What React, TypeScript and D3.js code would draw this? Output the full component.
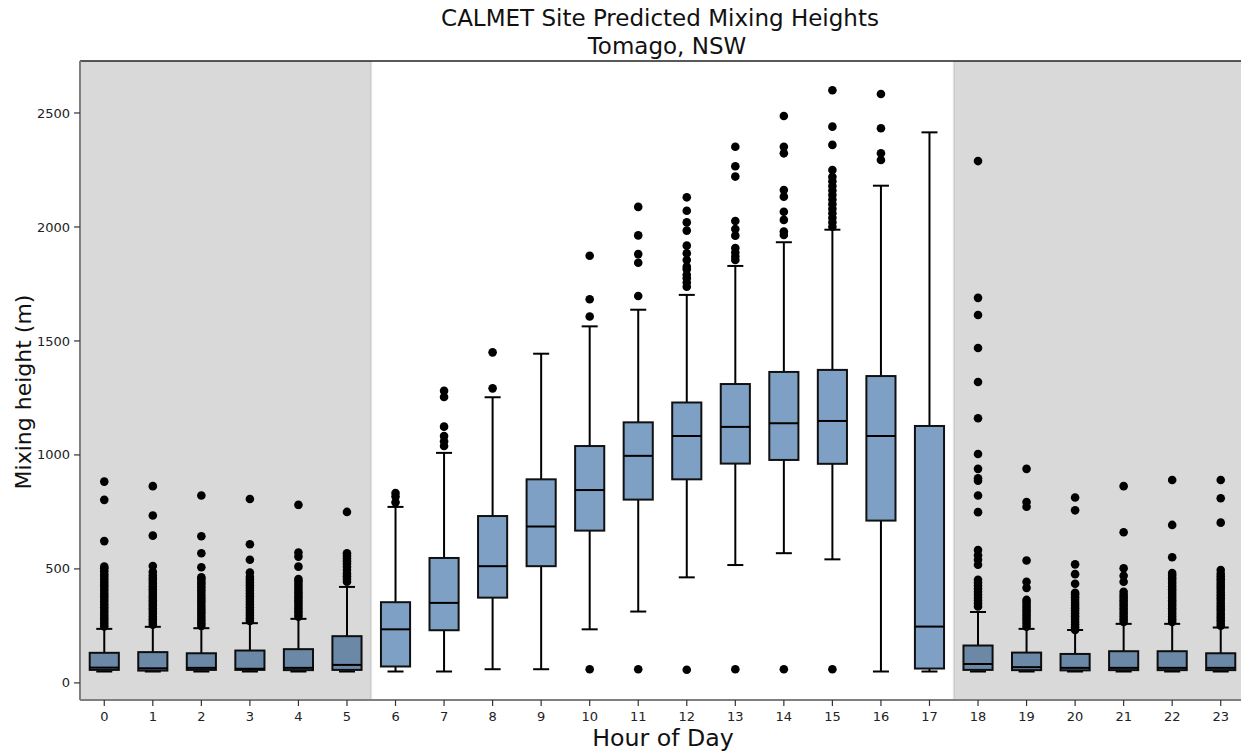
import * as d3 from 'd3'

const W = 1241
const H = 755
const MARGIN = { top: 61, right: -4, bottom: 55, left: 80 }

// hour of day
const hours = d3.range(0, 24)

// box statistics (m)
const q1 = [57, 54, 57, 57, 56, 57, 72, 231, 374, 512, 668, 804, 893, 962, 978, 961, 712, 63, 57, 56, 55, 56, 56, 56]
const medians = [67, 64, 66, 62, 66, 79, 235, 351, 512, 686, 846, 996, 1083, 1123, 1139, 1149, 1083, 247, 83, 69, 66, 66, 66, 66]
const q3 = [132, 135, 130, 142, 148, 205, 354, 548, 732, 893, 1039, 1143, 1230, 1311, 1364, 1373, 1346, 1127, 164, 133, 127, 139, 139, 130]
const whiskerLo = [50, 50, 50, 50, 50, 50, 50, 50, 60, 60, 235, 313, 463, 517, 569, 542, 50, 50, 50, 50, 50, 50, 50, 50]
const whiskerHi = [237, 246, 240, 262, 281, 421, 772, 1009, 1253, 1444, 1564, 1637, 1702, 1829, 1933, 1988, 2181, 2415, 311, 237, 232, 259, 259, 243]

const outliers: number[][] = [
  [248, 260, 272, 284, 296, 308, 320, 332, 344, 356, 368, 380, 392, 404, 416, 428, 440, 452, 464, 476, 490, 503, 510, 622, 803, 883],
  [255, 267, 279, 291, 303, 315, 327, 339, 351, 363, 375, 387, 399, 411, 423, 435, 447, 459, 471, 487, 513, 646, 734, 863],
  [250, 262, 274, 286, 298, 310, 322, 334, 346, 358, 370, 382, 394, 406, 418, 430, 442, 455, 463, 507, 569, 643, 822],
  [272, 284, 296, 308, 320, 332, 344, 356, 368, 380, 392, 404, 416, 428, 440, 452, 465, 484, 540, 608, 807],
  [290, 302, 314, 326, 338, 350, 362, 374, 386, 398, 410, 422, 434, 446, 456, 510, 554, 572, 781],
  [444, 456, 468, 480, 495, 510, 522, 534, 546, 558, 569, 750],
  [792, 818, 833],
  [1039, 1060, 1083, 1124, 1254, 1281],
  [1292, 1450],
  [],
  [60, 1607, 1683, 1874],
  [60, 1697, 1843, 1881, 1963, 2088],
  [58, 1738, 1756, 1775, 1790, 1814, 1826, 1855, 1885, 1918, 1984, 2020, 2071, 2130],
  [60, 1855, 1870, 1888, 1908, 1962, 1991, 2026, 2221, 2266, 2352],
  [60, 1965, 1980, 2031, 2067, 2133, 2162, 2323, 2352, 2487],
  [60, 2001, 2020, 2040, 2060, 2080, 2100, 2120, 2140, 2160, 2180, 2200, 2220, 2250, 2360, 2440, 2600],
  [2294, 2323, 2433, 2583],
  [],
  [335, 348, 361, 374, 387, 400, 413, 426, 439, 452, 518, 540, 560, 583, 749, 822, 887, 898, 939, 1004, 1161, 1320, 1469, 1614, 1689, 2289],
  [247, 259, 271, 283, 295, 307, 319, 331, 343, 355, 364, 417, 444, 537, 773, 793, 939],
  [232, 244, 256, 268, 280, 292, 304, 316, 328, 340, 352, 364, 376, 388, 395, 435, 477, 520, 757, 813],
  [267, 279, 291, 303, 315, 327, 339, 351, 363, 375, 387, 400, 444, 470, 503, 661, 863],
  [267, 279, 291, 303, 315, 327, 339, 351, 363, 375, 387, 399, 411, 423, 435, 447, 459, 471, 482, 551, 693, 890],
  [251, 263, 275, 287, 299, 311, 323, 335, 347, 359, 371, 383, 395, 407, 419, 431, 443, 455, 467, 479, 495, 703, 810, 890],
]

// night-time spans (hours)
const nightSpans = [[-0.5, 5.5], [17.5, 23.5]]
const yTicks = [0, 500, 1000, 1500, 2000, 2500]

const BOX_FILL = '#7ea0c5'
const FONT = 'DejaVu Sans, Verdana, sans-serif'

export default function App() {
  const x = d3.scaleLinear().domain([-0.5, 23.5]).range([MARGIN.left, W - MARGIN.right])
  const y = d3.scaleLinear().domain([-75, 2728]).range([H - MARGIN.bottom, MARGIN.top])
  const step = x(1) - x(0)
  const boxW = step * 0.6
  const capW = step * 0.33
  const bottom = H - MARGIN.bottom

  return (
    <svg width={W} height={H} style={{ position: 'absolute', left: 0, top: 0, fontFamily: FONT }}>
      <rect width={W} height={H} fill="#fff" />

      {/* boxes */}
      {hours.map((h, i) => {
        const cx = x(h)
        return (
          <g key={h}>
            <line x1={cx} x2={cx} y1={y(q3[i])} y2={y(whiskerHi[i])} stroke="#000" strokeWidth={2} />
            <line x1={cx} x2={cx} y1={y(q1[i])} y2={y(whiskerLo[i])} stroke="#000" strokeWidth={2} />
            <line x1={cx - capW / 2} x2={cx + capW / 2} y1={y(whiskerHi[i])} y2={y(whiskerHi[i])} stroke="#000" strokeWidth={2} />
            <line x1={cx - capW / 2} x2={cx + capW / 2} y1={y(whiskerLo[i])} y2={y(whiskerLo[i])} stroke="#000" strokeWidth={2} />
            <rect
              x={cx - boxW / 2}
              y={y(q3[i])}
              width={boxW}
              height={y(q1[i]) - y(q3[i])}
              fill={BOX_FILL}
              stroke="#111"
              strokeWidth={2}
            />
            <line x1={cx - boxW / 2} x2={cx + boxW / 2} y1={y(medians[i])} y2={y(medians[i])} stroke="#000" strokeWidth={2} />
            {outliers[i].map((v, j) => (
              <circle key={j} cx={cx} cy={y(v)} r={4.3} fill="#000" />
            ))}
          </g>
        )
      })}

      {/* night shading */}
      {nightSpans.map(([a, b], i) => (
        <g key={i}>
          <rect x={x(a)} y={MARGIN.top} width={x(b) - x(a)} height={bottom - MARGIN.top} fill="#000" fillOpacity={0.15} />
          <line
            x1={i === 0 ? x(b) : x(a)}
            x2={i === 0 ? x(b) : x(a)}
            y1={MARGIN.top}
            y2={bottom}
            stroke="#000"
            strokeOpacity={0.08}
            strokeWidth={2}
          />
        </g>
      ))}

      {/* spines */}
      <line x1={MARGIN.left} x2={W} y1={MARGIN.top} y2={MARGIN.top} stroke="#222" strokeWidth={1.5} />
      <line x1={MARGIN.left} x2={MARGIN.left} y1={MARGIN.top} y2={bottom} stroke="#7f7f7f" strokeWidth={2} />
      <line x1={MARGIN.left} x2={W} y1={bottom} y2={bottom} stroke="#7f7f7f" strokeWidth={2} />

      {/* y axis */}
      {yTicks.map(t => (
        <g key={t} transform={`translate(0, ${y(t)})`}>
          <line x1={MARGIN.left - 6} x2={MARGIN.left} stroke="#333" strokeWidth={1.2} />
          <text x={MARGIN.left - 10} dy="0.35em" textAnchor="end" fontSize={13} fill="#222">{t}</text>
        </g>
      ))}

      {/* x axis */}
      {hours.map(h => (
        <g key={h} transform={`translate(${x(h)}, ${bottom})`}>
          <line y1={0} y2={6} stroke="#333" strokeWidth={1.2} />
          <text y={21} textAnchor="middle" fontSize={13} fill="#222">{h}</text>
        </g>
      ))}

      <text x={663} y={746} textAnchor="middle" fontSize={23.7} fill="#111">Hour of Day</text>
      <text transform="translate(31, 392) rotate(-90)" textAnchor="middle" fontSize={22} fill="#111">
        Mixing height (m)
      </text>

      <text x={660} y={26} textAnchor="middle" fontSize={23} fill="#111">CALMET Site Predicted Mixing Heights</text>
      <text x={667} y={54} textAnchor="middle" fontSize={23} fill="#111">Tomago, NSW</text>
    </svg>
  )
}
